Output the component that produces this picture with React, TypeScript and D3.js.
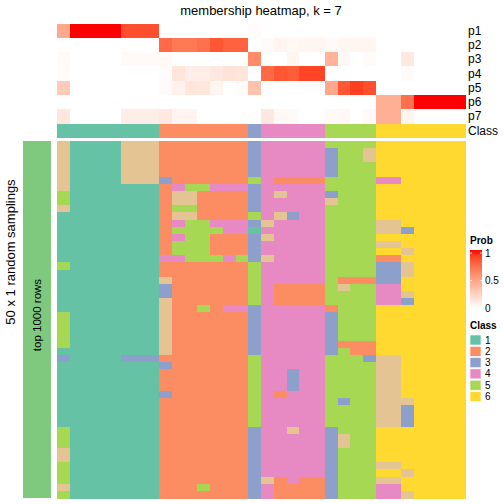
import React from "react";
import * as d3 from "d3";

const probRows = ["p1", "p2", "p3", "p4", "p5", "p6", "p7"];
const p1 = [0.45, 1, 1, 1, 1, 0.85, 0.85, 0.85, 0, 0, 0, 0, 0, 0, 0, 0.02, 0, 0, 0, 0, 0, 0, 0, 0, 0, 0, 0, 0, 0, 0, 0, 0];
const p2 = [0, 0, 0, 0, 0, 0, 0, 0, 0.75, 0.68, 0.68, 0.72, 0.82, 0.78, 0.78, 0, 0.02, 0.06, 0.04, 0.05, 0.05, 0.03, 0.05, 0.05, 0.05, 0, 0, 0, 0, 0, 0, 0];
const p3 = [0.03, 0, 0, 0, 0, 0.03, 0.03, 0.03, 0.03, 0, 0, 0, 0, 0, 0, 0.6, 0, 0, 0.05, 0, 0, 0.4, 0.04, 0, 0.02, 0, 0, 0.12, 0, 0, 0, 0];
const p4 = [0.02, 0, 0, 0, 0, 0, 0, 0, 0.02, 0.14, 0.09, 0.09, 0.12, 0.15, 0.14, 0, 0.75, 0.82, 0.8, 0.88, 0.88, 0, 0, 0, 0, 0, 0, 0.02, 0, 0, 0, 0];
const p5 = [0.28, 0, 0, 0, 0, 0, 0, 0, 0.02, 0.07, 0.14, 0.13, 0.05, 0, 0.02, 0.32, 0, 0, 0, 0, 0, 0.45, 0.82, 0.9, 0.85, 0, 0, 0, 0, 0, 0, 0];
const p6 = [0, 0, 0, 0, 0, 0, 0, 0, 0, 0, 0, 0, 0, 0, 0, 0, 0, 0, 0, 0, 0, 0, 0, 0, 0, 0.42, 0.42, 0.72, 1, 1, 1, 1];
const p7 = [0.13, 0, 0, 0, 0, 0.09, 0.09, 0.09, 0.12, 0.06, 0.06, 0, 0, 0, 0, 0, 0.12, 0.04, 0.03, 0, 0, 0.03, 0.04, 0, 0.03, 0.42, 0.42, 0.05, 0, 0, 0, 0];
const probs = [p1, p2, p3, p4, p5, p6, p7];

const classRow = [1, 1, 1, 1, 1, 1, 1, 1, 2, 2, 2, 2, 2, 2, 2, 3, 4, 4, 4, 4, 4, 5, 5, 5, 5, 6, 6, 6, 6, 6, 6, 6];

const samplings = [
  "71111777222222234444455556666666",
  "71111777222222234444435576666666",
  "71111777222222234444435576666666",
  "71111777222222234444435556666666",
  "71111777222222234444435556666666",
  "71111777322222254222255554466666",
  "71111111245544434444455556666666",
  "51111111277222234744435556666666",
  "51111111277222234444475556666666",
  "71111111255222234444455556666666",
  "11111111277222254734455556666666",
  "11111111245544437444455557766666",
  "11111111255554414444455557736666",
  "11111111245522237444455556666666",
  "11111111255522234444455557766666",
  "11111111255522234444455556676666",
  "11111111445554537444455552266666",
  "51111111222222254444455553376666",
  "11111111222222254444455553376666",
  "11111111722222254444452223366666",
  "11111111322222254222257554466666",
  "11111111322222254222255554476666",
  "11111111722222254222255554436666",
  "11111111722524434444425556666666",
  "51111111722222234444435556666666",
  "51111111722222234444435556666666",
  "51111111722222234444435556666666",
  "51111111722222234444435556666666",
  "51111111722222234444432226666666",
  "11111111722222234444435226666666",
  "31111333222222254444455537766666",
  "11111111322222254444455557766666",
  "11111111222222254434455557766666",
  "11111111222222254434455557766666",
  "11111111222222254434455557766666",
  "11111111322222254244455557766666",
  "11111111222222254444453557776666",
  "11111111222222254444455557736666",
  "11111111222222254444455557736666",
  "11111111222222254444455557736666",
  "51111111222222234474435556666666",
  "51111111222222234444437556666666",
  "51111111222222234444437556666666",
  "71111111222222234444435556666666",
  "71111111222222234444435556666666",
  "51111111222222234444435557766666",
  "51111111222222234444435556676666",
  "51111111222222237242235557766666",
  "71111111222522234222235554466666",
  "51111111222222234222235554476666",
];

const classLabels = ["1", "2", "3", "4", "5", "6"];
const classColors: Record<number, string> = {
  1: "#66C2A5",
  2: "#FC8D62",
  3: "#8DA0CB",
  4: "#E78AC3",
  5: "#A6D854",
  6: "#FFD92F",
  7: "#E5C494",
};
const probTicks = [0, 0.5, 1];

const FONT = "Liberation Sans, Arial, Helvetica, sans-serif";

export default function App() {
  const nCols = classRow.length;
  const x = d3.scaleBand<number>().domain(d3.range(nCols)).range([57, 465]);
  const yTop = d3.scaleBand<string>().domain(probRows).range([24, 123]);
  const yMain = d3.scaleBand<number>().domain(d3.range(samplings.length)).range([141, 498]);
  const probColor = d3.scaleLinear<string>().domain([0, 1]).range(["#FFFFFF", "#FF0000"]).interpolate(d3.interpolateLab);
  const legendY = d3.scaleLinear().domain([0, 1]).range([308, 253]);
  const matrix = samplings.map((s) => s.split("").map(Number));
  const gradStops = d3.range(0, 1.0001, 0.1);

  return (
    <svg width={504} height={504} style={{ position: "absolute", left: 0, top: 0 }} fontFamily={FONT}>
      <defs>
        <linearGradient id="probGrad" x1="0" y1="1" x2="0" y2="0">
          {gradStops.map((t) => (
            <stop key={t} offset={t} stopColor={probColor(t)} />
          ))}
        </linearGradient>
      </defs>
      <rect width={504} height={504} fill="#FFFFFF" />
      <text x={261} y={15} textAnchor="middle" fontSize={13} fill="#000">
        membership heatmap, k = 7
      </text>

      <g shapeRendering="crispEdges">
        {probs.map((row, ri) =>
          row.map((v, ci) => (
            <rect
              key={`p${ri}-${ci}`}
              x={x(ci)}
              y={yTop(probRows[ri])}
              width={x.bandwidth() + 0.5}
              height={yTop.bandwidth() + 0.5}
              fill={probColor(v)}
            />
          ))
        )}
        {classRow.map((c, ci) => (
          <rect key={`c${ci}`} x={x(ci)} y={124} width={x.bandwidth() + 0.5} height={14} fill={classColors[c]} />
        ))}
        {matrix.map((row, ri) =>
          row.map((c, ci) => (
            <rect
              key={`m${ri}-${ci}`}
              x={x(ci)}
              y={yMain(ri)}
              width={x.bandwidth() + 0.5}
              height={yMain.bandwidth() + 0.5}
              fill={classColors[c]}
            />
          ))
        )}
        <rect x={23} y={141} width={28} height={357} fill="#7FC97F" />
      </g>

      {probRows.map((p) => (
        <text key={p} x={468} y={(yTop(p) as number) + yTop.bandwidth() / 2} dominantBaseline="central" fontSize={12} fill="#000">
          {p}
        </text>
      ))}
      <text x={468} y={131} dominantBaseline="central" fontSize={12} fill="#000">
        Class
      </text>

      <text transform="translate(15,252) rotate(-90)" textAnchor="middle" fontSize={13} fill="#000">
        50 x 1 random samplings
      </text>
      <text transform="translate(37,315) rotate(-90)" textAnchor="middle" dominantBaseline="central" fontSize={11.5} fill="#000">
        top 1000 rows
      </text>

      {/* Prob legend */}
      <text x={470} y={244} fontSize={10} fontWeight="bold" fill="#000">
        Prob
      </text>
      <rect x={470} y={250} width={12} height={58} fill="url(#probGrad)" />
      {probTicks.map((t) => (
        <g key={t}>
          {t > 0 && (
            <>
              <line x1={470} x2={472} y1={legendY(t)} y2={legendY(t)} stroke="#FFFFFF" strokeWidth={0.8} />
              <line x1={480} x2={482} y1={legendY(t)} y2={legendY(t)} stroke="#FFFFFF" strokeWidth={0.8} />
            </>
          )}
          <text x={485} y={legendY(t)} dominantBaseline="central" fontSize={10} fill="#000">
            {t === 0.5 ? "0.5" : String(t)}
          </text>
        </g>
      ))}

      {/* Class legend */}
      <text x={470} y={329} fontSize={10} fontWeight="bold" fill="#000">
        Class
      </text>
      {classLabels.map((lab, i) => (
        <g key={lab}>
          <rect x={470} y={335 + i * 11.3} width={11} height={10} fill={classColors[i + 1]} stroke="#FFFFFF" strokeWidth={0.6} />
          <text x={485} y={340 + i * 11.3} dominantBaseline="central" fontSize={10} fill="#000">
            {lab}
          </text>
        </g>
      ))}
    </svg>
  );
}
